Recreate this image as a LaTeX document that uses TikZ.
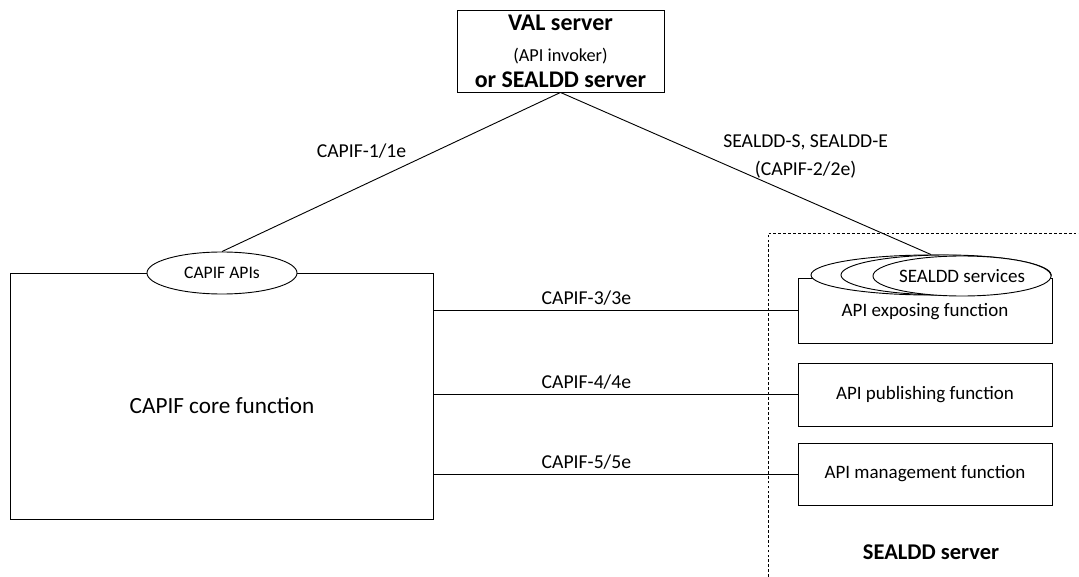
\documentclass[tikz,border=0pt]{standalone}
\usepackage{fontspec}
\setmainfont{Carlito}
\usetikzlibrary{shapes.geometric,positioning}

\tikzset{
  fbox/.style={draw, rectangle, fill=white, inner sep=0pt},
  apiell/.style={draw, ellipse, fill=white, inner sep=0pt},
  iflbl/.style={font=\fontsize{14}{16}\selectfont},
  boxlbl/.style={font=\fontsize{13.5}{15}\selectfont}
}

\begin{document}
\begin{tikzpicture}[x=0.025cm, y=-0.025cm, line width=0.65pt]
    \useasboundingbox (0,0) rectangle (1079,577);

    % VAL server
    \node [fbox, minimum width=5.175cm, minimum height=2.05cm] (val) at (560.5,51) {};
    \node [font=\fontsize{17}{19}\selectfont\bfseries] (valname) at (560.5,23) {VAL server};
    \node [font=\fontsize{13}{15}\selectfont] (valrole) at (560.5,56) {(API invoker)};
    \node [font=\fontsize{17}{19}\selectfont\bfseries] (valalt) at (560.5,80) {or SEALDD server};

    % CAPIF core
    \node [fbox, minimum width=10.55cm, minimum height=6.15cm] (core) at (222,396) {};
    \node [font=\fontsize{16.5}{18}\selectfont] (corelbl) at (222,406) {CAPIF core function};
    \node [apiell, minimum width=3.75cm, minimum height=1.05cm,
           font=\fontsize{12.5}{14}\selectfont] (capifapi) at (222,273) {CAPIF APIs};

    % SEALDD server area
    \coordinate (dbl) at (768,577);
    \coordinate (dtl) at (768,233);
    \coordinate (dtr) at (1079,233);
    \draw [dash pattern=on 2pt off 1.5pt, line width=0.5pt] (dbl) -- (dtl) -- (dtr);
    \node [font=\fontsize{16}{18}\selectfont\bfseries] (sealddlbl) at (931,552) {SEALDD server};

    % Functions
    \node [fbox, minimum width=6.35cm, minimum height=1.625cm] (expo) at (925,310.5) {};
    \node [boxlbl] (expolbl) at (925,312) {API exposing function};
    \node [fbox, boxlbl, minimum width=6.35cm, minimum height=1.575cm] (publ) at (925,394.5) {API publishing function};
    \node [fbox, boxlbl, minimum width=6.35cm, minimum height=1.55cm] (mgmt) at (925,474) {API management function};

    % SEALDD services
    \node [apiell, minimum width=6cm, minimum height=1cm] (svca) at (931,275) {};
    \node [apiell, minimum width=5.25cm, minimum height=1cm] (svcb) at (946,275) {};
    \node [apiell, minimum width=4.45cm, minimum height=1cm, boxlbl] (svcc) at (962,276) {SEALDD services};

    % Reference points
    \draw (val.south) -- (capifapi.north)
        node [iflbl, pos=0.37, left=17pt] {CAPIF-1/1e};
    \draw (val.south) -- (svca.north)
        node [iflbl, pos=0.395, right=8pt, align=center] {SEALDD-S, SEALDD-E\\[4pt](CAPIF-2/2e)};
    \draw (expo.west -| core.east) -- (expo.west)
        node [iflbl, pos=0.42, above] {CAPIF-3/3e};
    \draw (publ.west -| core.east) -- (publ.west)
        node [iflbl, pos=0.42, above] {CAPIF-4/4e};
    \draw (mgmt.west -| core.east) -- (mgmt.west)
        node [iflbl, pos=0.42, above] {CAPIF-5/5e};
\end{tikzpicture}
\end{document}
